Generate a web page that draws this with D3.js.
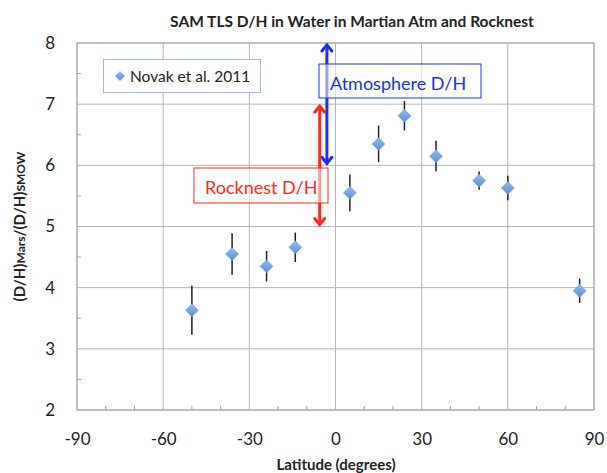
<!DOCTYPE html>
<html>
<head>
<meta charset="utf-8">
<script src="https://cdn.jsdelivr.net/npm/d3@7"></script>
<style>
  body { margin: 0; background: #fff; }
  text { font-family: Lato, 'Liberation Sans', sans-serif; }
</style>
</head>
<body>
<div id="chart"></div>
<script>
// Novak et al. 2011 latitude points
const latitudes = [-50, -36, -24, -14, 5, 15, 24, 35, 50, 60, 85]
const ratios = [3.63, 4.55, 4.35, 4.66, 5.55, 6.35, 6.81, 6.15, 5.75, 5.63, 3.95]
const errors = [0.4, 0.34, 0.25, 0.24, 0.3, 0.3, 0.24, 0.25, 0.15, 0.2, 0.2]

// SAM TLS ranges (drawn as double arrows)
const rangeNames = ['Atmosphere D/H', 'Rocknest D/H']
const rangeLat = [-3, -5.5]
const rangeLow = [6, 5]
const rangeHigh = [8, 7]

const xTicks = [-90, -60, -30, 0, 30, 60, 90]
const yTicks = [2, 3, 4, 5, 6, 7, 8]

const width = 607
const height = 473
const margin = { top: 43, left: 77, right: 13, bottom: 63 }

const svg = d3
  .select('#chart')
  .append('svg')
  .attr('width', width)
  .attr('height', height)

const x = d3
  .scaleLinear()
  .domain([-90, 90])
  .range([margin.left, width - margin.right])

const y = d3
  .scaleLinear()
  .domain([2, 8])
  .range([height - margin.bottom, margin.top])

const defs = svg.append('defs')
const grad = defs
  .append('linearGradient')
  .attr('id', 'dia')
  .attr('x1', 0)
  .attr('y1', 0)
  .attr('x2', 0)
  .attr('y2', 1)
grad.append('stop').attr('offset', '0%').attr('stop-color', '#93bcec')
grad.append('stop').attr('offset', '100%').attr('stop-color', '#5a8fd2')

// gridlines
svg
  .append('g')
  .selectAll('line')
  .data(xTicks)
  .enter()
  .append('line')
  .attr('x1', d => x(d))
  .attr('x2', d => x(d))
  .attr('y1', y(2))
  .attr('y2', y(8))
  .attr('stroke', '#b4b4b4')

svg
  .append('g')
  .selectAll('line')
  .data(yTicks)
  .enter()
  .append('line')
  .attr('x1', x(-90))
  .attr('x2', x(90))
  .attr('y1', d => y(d))
  .attr('y2', d => y(d))
  .attr('stroke', '#b4b4b4')

// minor ticks inside the plot
svg
  .append('g')
  .selectAll('line')
  .data(d3.range(-80, 90, 10).filter(d => d % 30 !== 0))
  .enter()
  .append('line')
  .attr('x1', d => x(d))
  .attr('x2', d => x(d))
  .attr('y1', y(2))
  .attr('y2', y(2) - 4)
  .attr('stroke', '#a0a0a0')

svg
  .append('g')
  .selectAll('line')
  .data(d3.range(2.5, 8, 1))
  .enter()
  .append('line')
  .attr('x1', x(-90))
  .attr('x2', x(-90) + 4)
  .attr('y1', d => y(d))
  .attr('y2', d => y(d))
  .attr('stroke', '#a0a0a0')

svg
  .append('rect')
  .attr('x', x(-90))
  .attr('y', y(8))
  .attr('width', x(90) - x(-90))
  .attr('height', y(2) - y(8))
  .attr('fill', 'none')
  .attr('stroke', '#a6a6a6')

// axes labels (tick text only), plain hyphen minus like the original
const xAxis = d3.axisBottom(x).tickValues(xTicks).tickFormat(d => String(d)).tickSize(0).tickPadding(0)
svg
  .append('g')
  .attr('class', 'axis x-axis')
  .attr('transform', 'translate(0,' + (y(2) + 23) + ')')
  .call(xAxis)
  .call(g => g.select('.domain').remove())
  .selectAll('text')
  .attr('font-size', 17)
  .attr('fill', '#222')
  .attr('font-family', 'Lato, sans-serif')

const yAxis = d3.axisLeft(y).tickValues(yTicks).tickFormat(d => String(d)).tickSize(0).tickPadding(22)
svg
  .append('g')
  .attr('class', 'axis y-axis')
  .attr('transform', 'translate(' + x(-90) + ',0)')
  .call(yAxis)
  .call(g => g.select('.domain').remove())
  .selectAll('text')
  .attr('font-size', 17)
  .attr('fill', '#222')
  .attr('font-family', 'Lato, sans-serif')

// range arrows
const colors = ['#1d2cff', '#ff2a1a']
const arrows = svg.append('g')
rangeNames.forEach((name, i) => {
  const ax = x(rangeLat[i])
  const top = y(rangeHigh[i])
  const bot = y(rangeLow[i])
  const g = arrows.append('g')
    .attr('stroke', colors[i])
    .attr('stroke-width', 3)
    .attr('fill', 'none')
    .attr('stroke-linecap', 'round')
  g.append('line').attr('x1', ax).attr('x2', ax).attr('y1', top + 2).attr('y2', bot - 2)
  g.append('path').attr('d', `M${ax - 5},${top + 8}L${ax},${top + 2}L${ax + 5},${top + 8}`)
  g.append('path').attr('d', `M${ax - 5},${bot - 8}L${ax},${bot - 2}L${ax + 5},${bot - 8}`)
})

// label boxes for the ranges
const boxes = [
  { x: 319, y: 64, w: 162, h: 34, tx: 330, ty: 90 },
  { x: 194, y: 168, w: 134, h: 35, tx: 205, ty: 194 }
]
boxes.forEach((b, i) => {
  svg.append('rect')
    .attr('x', b.x)
    .attr('y', b.y)
    .attr('width', b.w)
    .attr('height', b.h)
    .attr('fill', 'rgba(255,255,255,0.55)')
    .attr('stroke', colors[i])
    .attr('stroke-width', 1)
  svg.append('text')
    .attr('x', b.tx)
    .attr('y', b.ty)
    .attr('font-size', 18)
    .attr('fill', colors[i])
    .text(rangeNames[i])
})

// error bars
const points = latitudes.map((d, i) => ({ lat: d, val: ratios[i], err: errors[i] }))
svg
  .append('g')
  .selectAll('line')
  .data(points)
  .enter()
  .append('line')
  .attr('x1', d => x(d.lat))
  .attr('x2', d => x(d.lat))
  .attr('y1', d => y(d.val + d.err))
  .attr('y2', d => y(d.val - d.err))
  .attr('stroke', '#1e1e1e')
  .attr('stroke-width', 1.5)

const diamond = 'M0,-6.5L6.5,0L0,6.5L-6.5,0Z'
svg
  .append('g')
  .selectAll('path')
  .data(points)
  .enter()
  .append('path')
  .attr('d', diamond)
  .attr('transform', d => 'translate(' + x(d.lat) + ',' + y(d.val) + ')')
  .attr('fill', 'url(#dia)')
  .attr('stroke', '#6c9bd6')
  .attr('stroke-width', 0.5)

// legend
svg.append('rect')
  .attr('x', 103.5)
  .attr('y', 59.5)
  .attr('width', 157)
  .attr('height', 33)
  .attr('fill', '#fff')
  .attr('stroke', '#9dbde6')
svg.append('path')
  .attr('d', 'M0,-5L5,0L0,5L-5,0Z')
  .attr('transform', 'translate(120,76)')
  .attr('fill', 'url(#dia)')
svg.append('text')
  .attr('x', 130)
  .attr('y', 82)
  .attr('font-size', 15.5)
  .attr('fill', '#222')
  .text('Novak et al. 2011')

// titles
svg.append('text')
  .attr('x', 352)
  .attr('y', 27)
  .attr('text-anchor', 'middle')
  .attr('font-size', 15.5)
  .attr('font-weight', 'bold')
  .attr('fill', '#222')
  .text('SAM TLS D/H in Water in Martian Atm and Rocknest')

svg.append('text')
  .attr('x', 336)
  .attr('y', 470)
  .attr('text-anchor', 'middle')
  .attr('font-size', 15)
  .attr('font-weight', 'bold')
  .attr('fill', '#222')
  .text('Latitude (degrees)')

const yl = svg.append('text')
  .attr('transform', 'translate(25,' + y(5) + ') rotate(-90)')
  .attr('text-anchor', 'middle')
  .attr('font-size', 15)
  .attr('font-weight', 'bold')
  .attr('fill', '#222')
yl.append('tspan').text('(D/H)')
yl.append('tspan').attr('font-size', 12).text('Mars')
yl.append('tspan').text('/(D/H)')
yl.append('tspan').attr('font-size', 12).text('SMOW')
</script>
</body>
</html>
